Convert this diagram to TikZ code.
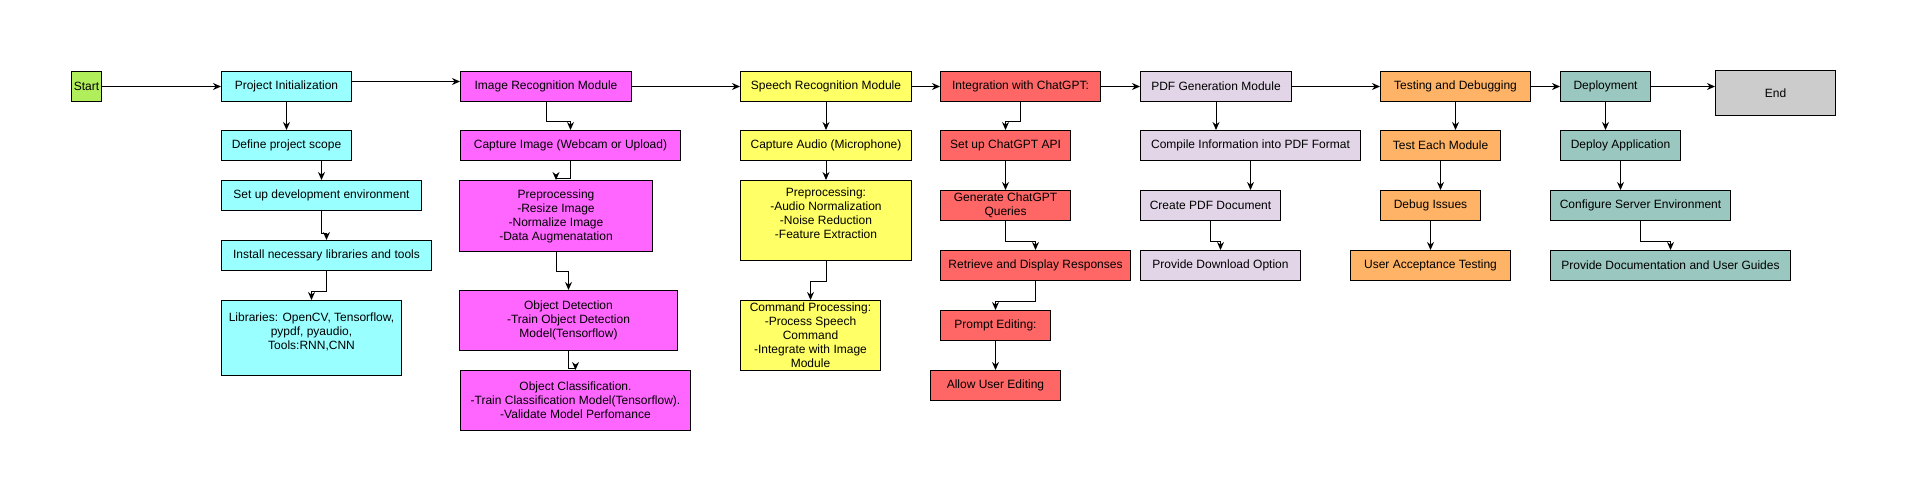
\documentclass[tikz,border=0pt]{standalone}
\usepackage{fontspec}
\setmainfont{Liberation Sans}
\usetikzlibrary{arrows.meta}
\definecolor{startgreen}{HTML}{B0EE5B}
\definecolor{initcyan}{HTML}{99FFFF}
\definecolor{imgpink}{HTML}{FF66FF}
\definecolor{speechyellow}{HTML}{FFFF66}
\definecolor{gptred}{HTML}{FF6666}
\definecolor{pdflilac}{HTML}{E1D5E7}
\definecolor{testorange}{HTML}{FFB366}
\definecolor{deploysea}{HTML}{9AC7BF}
\definecolor{endgray}{HTML}{CCCCCC}
\begin{document}
\begin{tikzpicture}
  [x=1pt, y=-1pt, line width=1pt, >={Stealth[length=8pt,width=7pt]},
   box/.style={draw, anchor=north west, inner sep=1pt, align=center,
               font=\fontsize{12}{14}\selectfont},
   flow/.style={->}]
  \useasboundingbox (0,0) rectangle (1906,501);

  \node[box, fill=startgreen, minimum width=30pt, minimum height=30pt] (start) at (71,71) {Start};

  \node[box, fill=initcyan, minimum width=130pt, minimum height=30pt] (init) at (221,71) {Project Initialization};
  \node[box, fill=initcyan, minimum width=130pt, minimum height=30pt] (scope) at (221,130) {Define project scope};
  \node[box, fill=initcyan, minimum width=200pt, minimum height=30pt] (env) at (221,180) {Set up development environment};
  \node[box, fill=initcyan, minimum width=210pt, minimum height=30pt] (install) at (221,240) {Install necessary libraries and tools};
  \node[box, fill=initcyan, minimum width=180pt, minimum height=75pt] (libs) at (221,300)
    {Libraries: OpenCV, Tensorflow,\\ pypdf, pyaudio,\\ Tools:RNN,CNN\\ \mbox{}};

  \node[box, fill=imgpink, minimum width=171pt, minimum height=30pt] (img) at (460,71) {Image Recognition Module};
  \node[box, fill=imgpink, minimum width=220pt, minimum height=30pt] (capimg) at (460,130) {Capture Image (Webcam or Upload)};
  \node[box, fill=imgpink, minimum width=193pt, minimum height=71pt] (preimg) at (459,180)
    {Preprocessing\\ -Resize Image\\ -Normalize Image\\ -Data Augmenatation};
  \node[box, fill=imgpink, minimum width=218pt, minimum height=60pt] (objdet) at (459,290)
    {Object Detection\\ -Train Object Detection\\ Model(Tensorflow)};
  \node[box, fill=imgpink, minimum width=230pt, minimum height=60pt] (objcls) at (460,370)
    {Object Classification.\\ -Train Classification Model(Tensorflow).\\ -Validate Model Perfomance};

  \node[box, fill=speechyellow, minimum width=171pt, minimum height=30pt] (speech) at (740,71) {Speech Recognition Module};
  \node[box, fill=speechyellow, minimum width=171pt, minimum height=30pt] (capaud) at (740,130) {Capture Audio (Microphone)};
  \node[box, fill=speechyellow, minimum width=171pt, minimum height=80pt] (preaud) at (740,180)
    {Preprocessing:\\ -Audio Normalization\\ -Noise Reduction\\ -Feature Extraction\\ \mbox{}};
  \node[box, fill=speechyellow, minimum width=140pt, minimum height=70pt] (cmd) at (740,300)
    {Command Processing:\\ -Process Speech\\ Command\\ -Integrate with Image\\ Module};

  \node[box, fill=gptred, minimum width=160pt, minimum height=30pt] (gpt) at (940,71) {Integration with ChatGPT:};
  \node[box, fill=gptred, minimum width=130pt, minimum height=30pt] (api) at (940,130) {Set up ChatGPT API};
  \node[box, fill=gptred, minimum width=130pt, minimum height=30pt] (query) at (940,190) {Generate ChatGPT\\ Queries};
  \node[box, fill=gptred, minimum width=190pt, minimum height=30pt] (resp) at (940,250) {Retrieve and Display Responses};
  \node[box, fill=gptred, minimum width=110pt, minimum height=30pt] (prompt) at (940,310) {Prompt Editing:};
  \node[box, fill=gptred, minimum width=130pt, minimum height=30pt] (allow) at (930,370) {Allow User Editing};

  \node[box, fill=pdflilac, minimum width=151pt, minimum height=30pt] (pdf) at (1140,71) {PDF Generation Module};
  \node[box, fill=pdflilac, minimum width=220pt, minimum height=30pt] (compile) at (1140,130) {Compile Information into PDF Format};
  \node[box, fill=pdflilac, minimum width=140pt, minimum height=30pt] (create) at (1140,190) {Create PDF Document};
  \node[box, fill=pdflilac, minimum width=160pt, minimum height=30pt] (download) at (1140,250) {Provide Download Option};

  \node[box, fill=testorange, minimum width=150pt, minimum height=30pt] (test) at (1380,71) {Testing and Debugging};
  \node[box, fill=testorange, minimum width=120pt, minimum height=30pt] (eachmod) at (1380,130) {Test Each Module};
  \node[box, fill=testorange, minimum width=100pt, minimum height=30pt] (debug) at (1380,190) {Debug Issues};
  \node[box, fill=testorange, minimum width=160pt, minimum height=30pt] (uat) at (1350,250) {User Acceptance Testing};

  \node[box, fill=deploysea, minimum width=90pt, minimum height=30pt] (deploy) at (1560,71) {Deployment};
  \node[box, fill=deploysea, minimum width=120pt, minimum height=30pt] (deployapp) at (1560,130) {Deploy Application};
  \node[box, fill=deploysea, minimum width=180pt, minimum height=30pt] (server) at (1550,190) {Configure Server Environment};
  \node[box, fill=deploysea, minimum width=240pt, minimum height=30pt] (docs) at (1550,250) {Provide Documentation and User Guides};

  \node[box, fill=endgray, minimum width=120pt, minimum height=45pt] (endn) at (1715,70) {End};

  % main line
  \draw[flow] (start) -- (init);
  \draw[flow] ([yshift=5pt]init.east) -- ([yshift=5pt]init.east -| img.west);
  \draw[flow] (img) -- (speech);
  \draw[flow] (speech) -- (gpt);
  \draw[flow] (gpt) -- (pdf);
  \draw[flow] (pdf) -- (test);
  \draw[flow] (test) -- (deploy);
  \draw[flow] (deploy.east) -- (deploy.east -| endn.west);

  % columns
  \draw[flow] (init) -- (scope);
  \draw[flow] (scope.south -| env.north) -- (env.north);
  \draw[flow] (env.south) -- ++(0,22) -| (install.north);
  \draw[flow] (install.south) -- ++(0,20) -| (libs.north);

  \draw[flow] (img.south) -- ++(0,19.5) -| (capimg.north);
  \draw[flow] (capimg.south) -- ++(0,17) -| (preimg.north);
  \draw[flow] (preimg.south) -- ++(0,19) -| (objdet.north);
  \draw[flow] (objdet.south) -- ++(0,17) -| (objcls.north);

  \draw[flow] (speech) -- (capaud);
  \draw[flow] (capaud) -- (preaud);
  \draw[flow] (preaud.south) -- ++(0,20) -| (cmd.north);

  \draw[flow] (gpt.south) -- ++(0,19.5) -| (api.north);
  \draw[flow] (api) -- (query);
  \draw[flow] (query.south) -- ++(0,20) -| (resp.north);
  \draw[flow] (resp.south) -- ++(0,20) -| (prompt.north);
  \draw[flow] (prompt) -- (allow);

  \draw[flow] (pdf.south) -- (pdf.south |- compile.north);
  \draw[flow] (compile.south) -- (compile.south |- create.north);
  \draw[flow] (create.south) -- ++(0,20) -| (download.north);

  \draw[flow] (test.south) -- (test.south |- eachmod.north);
  \draw[flow] (eachmod.south) -- (eachmod.south |- debug.north);
  \draw[flow] (debug) -- (uat);

  \draw[flow] (deploy.south) -- (deploy.south |- deployapp.north);
  \draw[flow] (deployapp.south) -- (deployapp.south |- server.north);
  \draw[flow] (server.south) -- ++(0,20) -| (docs.north);
\end{tikzpicture}
\end{document}
